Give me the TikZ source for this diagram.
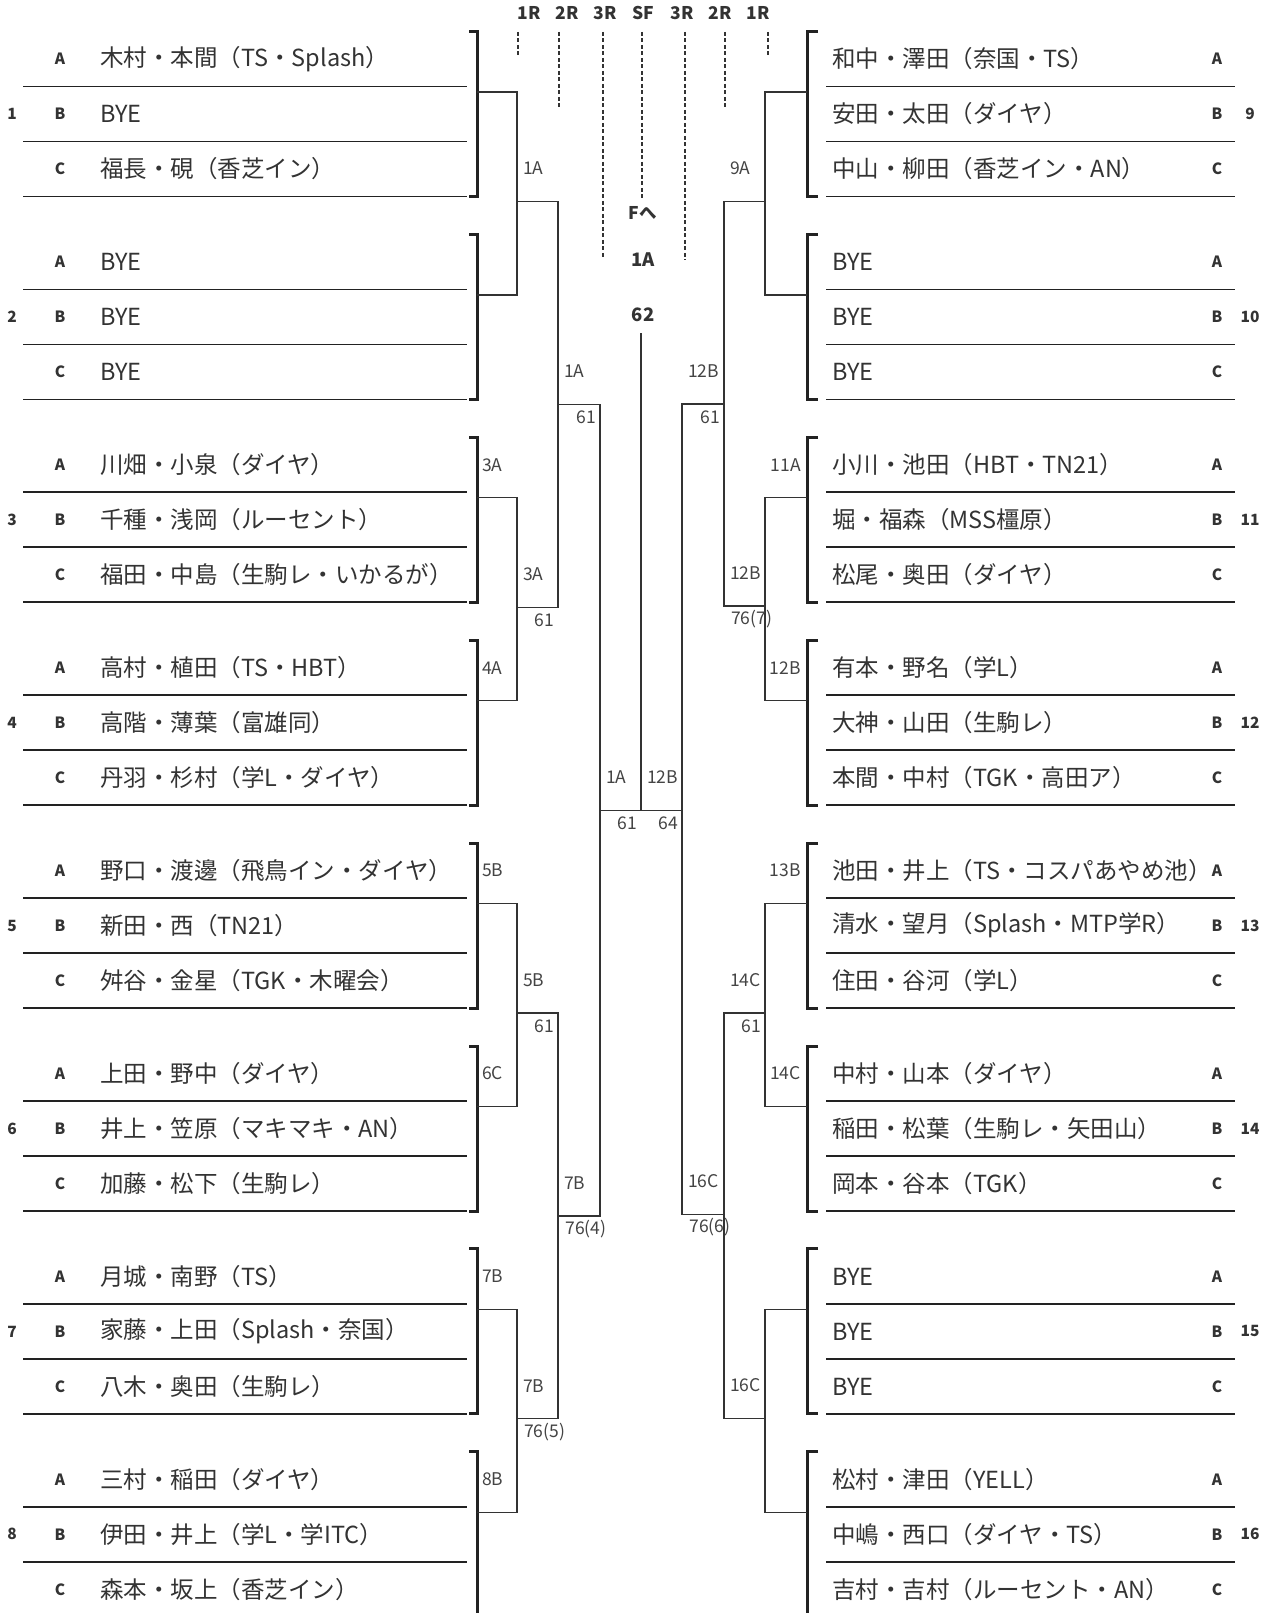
\documentclass[tikz,border=0pt]{standalone}
\usepackage{fontspec}
\setmainfont{Noto Sans CJK JP}
\definecolor{ink}{HTML}{333333}
\definecolor{lin}{HTML}{222222}
\definecolor{con}{HTML}{333333}
\definecolor{lab}{HTML}{444444}
\tikzset{
  nm/.style={anchor=west, inner sep=0pt, font=\fontsize{23.5}{28}\selectfont, text=ink},
  letr/.style={inner sep=0pt, font=\bfseries\fontsize{15.5}{18}\selectfont, text=ink},
  rowline/.style={line width=1.8pt, draw=lin},
  brk/.style={line width=3pt, draw=lin},
  conn/.style={line width=1.2pt, draw=con},
  lbl/.style={inner sep=0pt, font=\fontsize{17.5}{20}\selectfont, text=lab},
  hdr/.style={inner sep=0pt, font=\bfseries\fontsize{17.5}{21}\selectfont, text=ink},
  ctr/.style={inner sep=0pt, font=\bfseries\fontsize{18.5}{22}\selectfont, text=ink},
  dsh/.style={line width=1.1pt, dash pattern=on 4pt off 2.5pt, draw=ink}
}
\begin{document}
\begin{tikzpicture}[x=1pt,y=-1pt]
\useasboundingbox (0,0) rectangle (1270,1613);
\fill[white] (0,0) rectangle (1270,1613);

% ---------- left blocks ----------
\foreach \k/\na/\nb/\nc in {
 1/{木村・本間（TS・Splash）}/{BYE}/{福長・硯（香芝イン）},
 2/{BYE}/{BYE}/{BYE},
 3/{川畑・小泉（ダイヤ）}/{千種・浅岡（ルーセント）}/{福田・中島（生駒レ・いかるが）},
 4/{高村・植田（TS・HBT）}/{高階・薄葉（富雄同）}/{丹羽・杉村（学L・ダイヤ）},
 5/{野口・渡邊（飛鳥イン・ダイヤ）}/{新田・西（TN21）}/{舛谷・金星（TGK・木曜会）},
 6/{上田・野中（ダイヤ）}/{井上・笠原（マキマキ・AN）}/{加藤・松下（生駒レ）},
 7/{月城・南野（TS）}/{家藤・上田（Splash・奈国）}/{八木・奥田（生駒レ）},
 8/{三村・稲田（ダイヤ）}/{伊田・井上（学L・学ITC）}/{森本・坂上（香芝イン）}}{
  \pgfmathsetmacro\T{31.5+202.9*(\k-1)}
  \node[nm] (L\k a) at (100,\T+27.5) {\na};
  \node[nm] (L\k b) at (100,\T+82.5) {\nb};
  \node[nm] (L\k c) at (100,\T+137.5) {\nc};
  \node[letr] (LA\k) at (60,\T+27.5) {A};
  \node[letr] (LB\k) at (60,\T+82.5) {B};
  \node[letr] (LC\k) at (60,\T+137.5) {C};
  \node[letr] (LN\k) at (12,\T+82.5) {\k};
  \draw[rowline] (23,\T+55) -- (467,\T+55);
  \draw[rowline] (23,\T+110) -- (467,\T+110);
  \draw[rowline] (23,\T+165) -- (467,\T+165);
  \draw[brk] (469,\T) -- (477,\T) -- (477,\T+165) -- (469,\T+165);
  \coordinate (LO\k) at (477,\T+60.5);
}

% ---------- right blocks ----------
\foreach \k/\na/\nb/\nc in {
 9/{和中・澤田（奈国・TS）}/{安田・太田（ダイヤ）}/{中山・柳田（香芝イン・AN）},
 10/{BYE}/{BYE}/{BYE},
 11/{小川・池田（HBT・TN21）}/{堀・福森（MSS橿原）}/{松尾・奥田（ダイヤ）},
 12/{有本・野名（学L）}/{大神・山田（生駒レ）}/{本間・中村（TGK・高田ア）},
 13/{池田・井上（TS・コスパあやめ池）}/{清水・望月（Splash・MTP学R）}/{住田・谷河（学L）},
 14/{中村・山本（ダイヤ）}/{稲田・松葉（生駒レ・矢田山）}/{岡本・谷本（TGK）},
 15/{BYE}/{BYE}/{BYE},
 16/{松村・津田（YELL）}/{中嶋・西口（ダイヤ・TS）}/{吉村・吉村（ルーセント・AN）}}{
  \pgfmathsetmacro\T{31.5+202.9*(\k-9)}
  \node[nm] (R\k a) at (832,\T+27.5) {\na};
  \node[nm] (R\k b) at (832,\T+82.5) {\nb};
  \node[nm] (R\k c) at (832,\T+137.5) {\nc};
  \node[letr] (RA\k) at (1217,\T+27.5) {A};
  \node[letr] (RB\k) at (1217,\T+82.5) {B};
  \node[letr] (RC\k) at (1217,\T+137.5) {C};
  \node[letr] (RN\k) at (1250,\T+82.5) {\k};
  \draw[rowline] (826,\T+55) -- (1235,\T+55);
  \draw[rowline] (826,\T+110) -- (1235,\T+110);
  \draw[rowline] (826,\T+165) -- (1235,\T+165);
  \draw[brk] (818,\T) -- (807,\T) -- (807,\T+165) -- (818,\T+165);
  \coordinate (RO\k) at (807,\T+60.5);
}

% ---------- block winner labels ----------
\foreach \k/\t in {3/3A,4/4A,5/5B,6/6C,7/7B,8/8B}{
  \pgfmathsetmacro\T{31.5+202.9*(\k-1)}
  \node[lbl,anchor=west] (BL\k) at (482,\T+27.5) {\t};
}
\foreach \k/\t in {11/11A,12/12B,13/13B,14/14C}{
  \pgfmathsetmacro\T{31.5+202.9*(\k-9)}
  \node[lbl,anchor=east] (BR\k) at (801,\T+27.5) {\t};
}

% ---------- match junctions ----------
\coordinate (a1) at (517,201.45);
\coordinate (a2) at (517,607.25);
\coordinate (a3) at (517,1013.05);
\coordinate (a4) at (517,1418.85);
\coordinate (b1) at (558,404.35);
\coordinate (b2) at (558,1215.95);
\coordinate (c1) at (600,810.15);
\coordinate (sf) at (641,810.15);
\coordinate (sftop) at (641,333);
\coordinate (ra1) at (765,201.45);
\coordinate (ra2) at (765,606);
\coordinate (ra3) at (765,1013.05);
\coordinate (ra4) at (765,1418.3);
\coordinate (rb1) at (724,404);
\coordinate (rb2) at (724,1214.5);
\coordinate (rc1) at (682,810.15);

% left tree
\draw[conn] (LO1) -| (a1) |- (LO2);
\draw[conn] (LO3) -| (a2) |- (LO4);
\draw[conn] (LO5) -| (a3) |- (LO6);
\draw[conn] (LO7) -| (a4) |- (LO8);
\draw[conn] (a1) -| (b1) |- (a2);
\draw[conn] (a3) -| (b2) |- (a4);
\draw[conn] (b1) -| (c1) |- (b2);
% final
\draw[conn] (c1) -- (sf) -- (rc1);
\draw[conn] (sf) -- (sftop);
% right tree
\draw[conn] (RO9) -| (ra1) |- (RO10);
\draw[conn] (RO11) -| (ra2) |- (RO12);
\draw[conn] (RO13) -| (ra3) |- (RO14);
\draw[conn] (RO15) -| (ra4) |- (RO16);
\draw[conn] (ra1) -| (rb1) |- (ra2);
\draw[conn] (ra3) -| (rb2) |- (ra4);
\draw[conn] (rb1) -| (rc1) |- (rb2);

% ---------- match labels (winner above, score below) ----------
% left 1R
\node[lbl,anchor=west] (w1) at (523,168.5) {1A};
\node[lbl,anchor=west] (w2) at (523,574.25) {3A};
\node[lbl] (s2) at (544.5,620.25) {61};
\node[lbl,anchor=west] (w3) at (523,980.05) {5B};
\node[lbl] (s3) at (544.5,1026.05) {61};
\node[lbl,anchor=west] (w4) at (523,1385.85) {7B};
\node[lbl] (s4) at (544.5,1431.85) {76(5)};
% left 2R
\node[lbl,anchor=west] (w5) at (564,371.35) {1A};
\node[lbl] (s5) at (586,417.35) {61};
\node[lbl,anchor=west] (w6) at (564,1182.95) {7B};
\node[lbl] (s6) at (586,1228.95) {76(4)};
% semifinal
\node[lbl,anchor=west] (w7) at (606,777.15) {1A};
\node[lbl] (s7) at (627.5,823.15) {61};
\node[lbl,anchor=west] (w8) at (647,777.15) {12B};
\node[lbl] (s8) at (668.5,823.15) {64};
% right 2R
\node[lbl,anchor=west] (w9) at (688,371) {12B};
\node[lbl] (s9) at (710,417) {61};
\node[lbl,anchor=west] (w10) at (688,1181.5) {16C};
\node[lbl] (s10) at (710,1227.5) {76(6)};
% right 1R
\node[lbl,anchor=west] (w11) at (730,168.5) {9A};
\node[lbl,anchor=west] (w12) at (730,573) {12B};
\node[lbl] (s12) at (751.5,619) {76(7)};
\node[lbl,anchor=west] (w13) at (730,980.05) {14C};
\node[lbl] (s13) at (751.5,1026.05) {61};
\node[lbl,anchor=west] (w14) at (730,1385.3) {16C};

% ---------- header ----------
\foreach \x/\t/\yb [count=\i] in {518/1R/55, 559/2R/107, 603/3R/258, 642/SF/198, 685/3R/260, 725/2R/108, 768/1R/56}{
  \coordinate (dtop\i) at (\x,32);
  \coordinate (dbot\i) at (\x,\yb);
  \draw[dsh] (dtop\i) -- (dbot\i);
}
\node[hdr] (h1) at (529,13) {1R};
\node[hdr] (h2) at (567,13) {2R};
\node[hdr] (h3) at (605,13) {3R};
\node[hdr] (h4) at (643,13) {SF};
\node[hdr] (h5) at (682,13) {3R};
\node[hdr] (h6) at (720,13) {2R};
\node[hdr] (h7) at (758,13) {1R};

% ---------- center ----------
\node[hdr] (fto) at (643,213) {Fへ};
\node[ctr] (champ) at (643,260) {1A};
\node[ctr] (fscore) at (643,315) {62};
\end{tikzpicture}
\end{document}
